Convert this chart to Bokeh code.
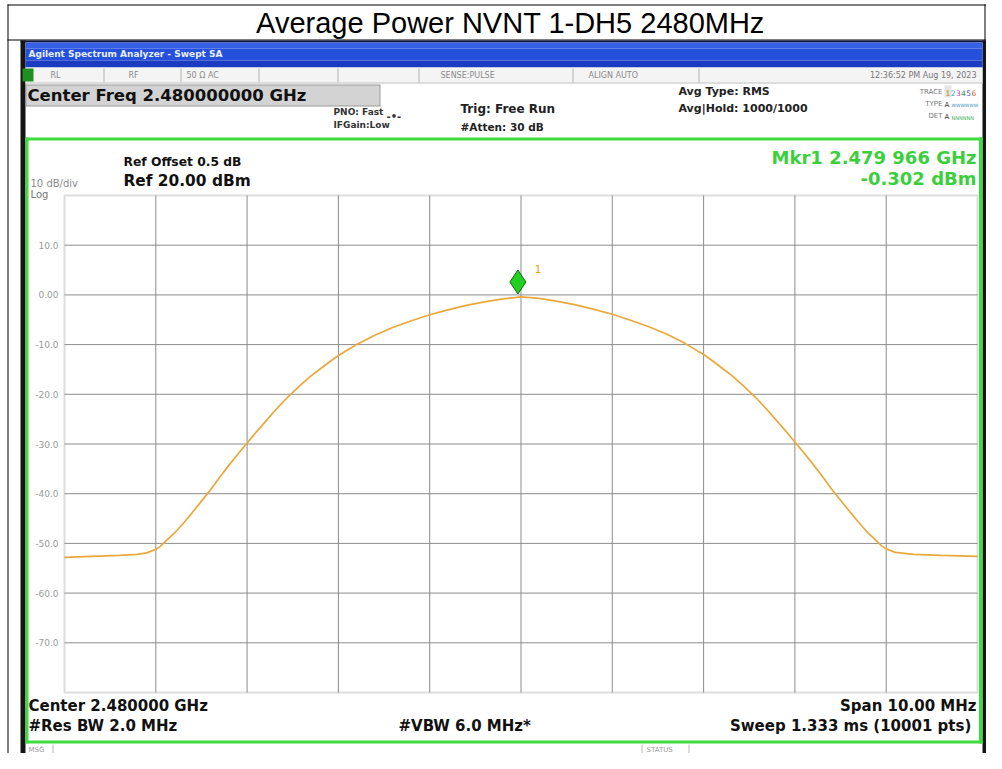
from bokeh.plotting import figure
from bokeh.models import Range1d, Label, BoxAnnotation, ColumnDataSource
from bokeh.core.properties import value
from bokeh.transform import dodge
from bokeh.embed import file_html
from bokeh.resources import INLINE

# ---------------- data ----------------
freq_ghz = [2.4750, 2.4753, 2.4756, 2.4758, 2.4759, 2.4760, 2.47605, 2.4761, 2.4762,
            2.4763, 2.4764, 2.4765, 2.4766, 2.4767, 2.4768, 2.4769, 2.4770, 2.4771,
            2.4772, 2.4773, 2.4774, 2.4775, 2.4776, 2.4777, 2.4778, 2.4779, 2.4780,
            2.4782, 2.4784, 2.4786, 2.4788, 2.4790, 2.4792, 2.4794, 2.4796, 2.4798,
            2.4800, 2.4802, 2.4804, 2.4806, 2.4808, 2.4810, 2.4812, 2.4814, 2.4816,
            2.4818, 2.4820, 2.4821, 2.4822, 2.4823, 2.4824, 2.4825, 2.4826, 2.4827,
            2.4828, 2.4829, 2.4830, 2.4831, 2.4832, 2.4833, 2.4834, 2.4835, 2.4836,
            2.4837, 2.4838, 2.4839, 2.48395, 2.4840, 2.4841, 2.4843, 2.4846, 2.4850]
level_dbm = [-52.8, -52.6, -52.4, -52.2, -51.9, -51.2, -50.6, -49.7, -48.0,
             -46.0, -43.8, -41.5, -39.2, -36.7, -34.3, -32.0, -29.8, -27.6,
             -25.5, -23.4, -21.4, -19.6, -17.9, -16.3, -14.9, -13.5, -12.2,
             -10.0, -8.1, -6.5, -5.2, -4.0, -3.0, -2.1, -1.4, -0.8,
             -0.4, -0.7, -1.3, -2.0, -2.9, -3.9, -5.1, -6.4, -7.9,
             -9.8, -12.0, -13.3, -14.7, -16.1, -17.7, -19.4, -21.2, -23.2,
             -25.3, -27.4, -29.6, -31.8, -34.1, -36.5, -39.0, -41.3, -43.6,
             -45.8, -47.9, -49.6, -50.5, -51.1, -51.8, -52.2, -52.4, -52.6]

marker_freq_ghz = [2.479966]
marker_level_dbm = [-0.302]

x_start_ghz, x_end_ghz = 2.475, 2.485
y_bottom_dbm, y_top_dbm = -80.0, 20.0
x_grid_ghz = [2.476, 2.477, 2.478, 2.479, 2.480, 2.481, 2.482, 2.483, 2.484]
y_tick_values = [10, 0, -10, -20, -30, -40, -50, -60, -70]
y_tick_labels = ["10.0", "0.00", "-10.0", "-20.0", "-30.0", "-40.0", "-50.0", "-60.0", "-70.0"]

# ---------------- layout (canvas pixels) ----------------
W, H = 986, 753
GL, GR, GT, GB = 64, 977, 195, 692     # graticule box

ppx = (GR - GL) / (x_end_ghz - x_start_ghz)
ppy = (GB - GT) / (y_top_dbm - y_bottom_dbm)
x_range = Range1d(x_start_ghz - GL / ppx, x_end_ghz + (W - GR) / ppx)
y_range = Range1d(y_bottom_dbm - (H - GB) / ppy, y_top_dbm + GT / ppy)

p = figure(width=W, height=H, x_range=x_range, y_range=y_range, output_backend="svg",
           toolbar_location=None, title=None, x_axis_type=None, y_axis_type=None,
           min_border=0)
p.background_fill_color = "white"
p.border_fill_color = "white"
p.outline_line_color = None
p.xgrid.visible = False
p.ygrid.visible = False


def B(x0, y0, x1, y1, color):
    p.add_layout(BoxAnnotation(left=x0, right=x1, top=y0, bottom=y1,
                               left_units="canvas", right_units="canvas",
                               top_units="canvas", bottom_units="canvas",
                               fill_color=color, fill_alpha=1.0, line_color=None, line_alpha=0))


def T(x, base, s, size, color="#111111", bold=True, align="left", font="DejaVu Sans"):
    # base = wanted baseline; label is anchored at the middle of the text
    p.add_layout(Label(x=x, y=base - 0.35 * size, x_units="canvas", y_units="canvas", text=s,
                       text_font=font, text_font_size=f"{size}px",
                       text_font_style="bold" if bold else "normal",
                       text_color=color, text_align=align, text_baseline="middle"))


# ---------------- graticule ----------------
gsrc = ColumnDataSource(dict(x=x_grid_ghz))
p.segment(x0="x", y0=y_bottom_dbm, x1="x", y1=y_top_dbm, source=gsrc,
          line_color="#8c8c8c", line_width=1)
ysrc = ColumnDataSource(dict(y=y_tick_values, lab=y_tick_labels))
p.segment(x0=x_start_ghz, y0="y", x1=x_end_ghz, y1="y", source=ysrc,
          line_color="#8c8c8c", line_width=1)
p.text(x=x_start_ghz, y="y", text="lab", source=ysrc, x_offset=-6,
       text_align="right", text_baseline="middle", text_font=value("DejaVu Sans"),
       text_font_size="9px", text_color="#9a9a9a")
p.add_layout(BoxAnnotation(left=x_start_ghz, right=x_end_ghz, bottom=y_bottom_dbm, top=y_top_dbm,
                           fill_alpha=0, line_color="#8a8a8a", line_width=2))

src = ColumnDataSource(dict(f=freq_ghz, lvl=level_dbm))
p.line("f", "lvl", source=src, line_color="#eba83a", line_width=1.7)

msrc = ColumnDataSource(dict(f=marker_freq_ghz, lvl=marker_level_dbm))
p.scatter("f", dodge("lvl", 2.9), source=msrc, marker="diamond", size=24,
          fill_color="#22d022", line_color="#0b6b0b", line_width=1)

# ---------------- decorations ----------------
# page frame with title row
B(7, 4, 986, 5, "#000000")
B(7, 4, 8, 753, "#000000")
B(984, 4, 985, 40, "#000000")
B(7, 39, 986, 40, "#000000")
T(510, 33, "Average Power NVNT 1-DH5 2480MHz", 29, "#000000", False, "center", "Liberation Sans")

# analyzer screenshot frame
B(20, 40, 986, 42, "#0c1440")
B(20, 40, 25, 753, "#151515")
B(982, 40, 986, 753, "#151515")
B(25, 42, 982, 48, "#3560e6")
B(25, 48, 982, 60, "#2450dc")
B(25, 60, 982, 67, "#1b3cc0")
T(28, 57, "Agilent Spectrum Analyzer - Swept SA", 9, "#e8eeff", True)

# status row
B(25, 67, 982, 83, "#f4f4f4")
B(25, 82, 982, 83, "#c4c4c4")
for dx in [103, 180, 258, 337, 418, 572, 698]:
    B(dx, 68, dx + 1, 82, "#b4b4b4")
B(22, 68, 33, 81, "#1f8f1f")
for tx, ts in [(50, "RL"), (128, "RF"), (186, "50 Ω   AC"), (440, "SENSE:PULSE"), (588, "ALIGN AUTO")]:
    T(tx, 78, ts, 8, "#8a8a8a", False)
T(976, 78, "12:36:52 PM Aug 19, 2023", 8, "#777777", False, "right")

# center freq box
B(25, 84, 380, 106, "#9a9a9a")
B(26, 85, 379, 105, "#d3d3d3")
T(27, 101, "Center Freq 2.480000000 GHz", 16.5, "#111111")

T(333, 115, "PNO: Fast", 9, "#333333")
T(333, 128, "IFGain:Low", 9, "#333333")
T(386, 119, "-•-", 10, "#333333")
T(460, 113, "Trig: Free Run", 12, "#222222")
T(460, 130, "#Atten: 30 dB", 10.5, "#222222")
T(678, 95, "Avg Type: RMS", 11, "#222222")
T(678, 112, "Avg|Hold: 1000/1000", 11, "#222222")

# trace block
T(942, 94, "TRACE", 7, "#777777", False, "right")
T(942, 106, "TYPE", 7, "#777777", False, "right")
T(942, 118, "DET", 7, "#777777", False, "right")
B(944, 85, 951, 97, "#e4e4e4")
trace_cols = ["#b89000", "#20b0c0", "#c040c0", "#30a030", "#3050e0", "#e06020"]
for i, c in enumerate(trace_cols):
    T(945 + i * 5.2, 95, str(i + 1), 7.5, c, False)
T(944, 107, "A", 7, "#333333", False)
T(951, 107, "WWWWWW", 4.5, "#4090c0", False)
T(944, 119, "A", 7, "#333333", False)
T(951, 119, "NNNNNN", 5, "#40b060", False)

# graticule panel green frame
G = "#3fdc3f"
B(25, 137, 982, 140, G)
B(25, 137, 28, 743, G)
B(978.5, 137, 982, 743, G)
B(25, 740, 982, 743, G)

T(123, 166, "Ref Offset 0.5 dB", 12.3, "#111111")
T(123, 186, "Ref 20.00 dBm", 15.4, "#111111")
T(30, 186, "10 dB/div", 10, "#8a8a8a", False)
T(30, 197, "Log", 10, "#777777", False)
T(976, 163, "Mkr1 2.479 966 GHz", 18, "#3ccf3c", True, "right")
T(976, 184, "-0.302 dBm", 18, "#3ccf3c", True, "right")
T(534, 272, "1", 11, "#f0a020", False)

T(28, 711, "Center 2.480000 GHz", 15, "#111111")
T(28, 731, "#Res BW 2.0 MHz", 15, "#111111")
T(398, 731, "#VBW 6.0 MHz*", 15, "#111111")
T(976, 711, "Span 10.00 MHz", 15, "#111111", True, "right")
T(976, 731, "Sweep  1.333 ms (10001 pts)", 15, "#111111", True, "right")

# message / status row
B(52, 744, 53, 753, "#bbbbbb")
B(641, 744, 642, 753, "#bbbbbb")
B(688, 744, 689, 753, "#bbbbbb")
T(28, 752, "MSG", 7, "#999999", False)
T(646, 752, "STATUS", 7, "#999999", False)

open("out.html", "w").write(file_html(p, INLINE))
